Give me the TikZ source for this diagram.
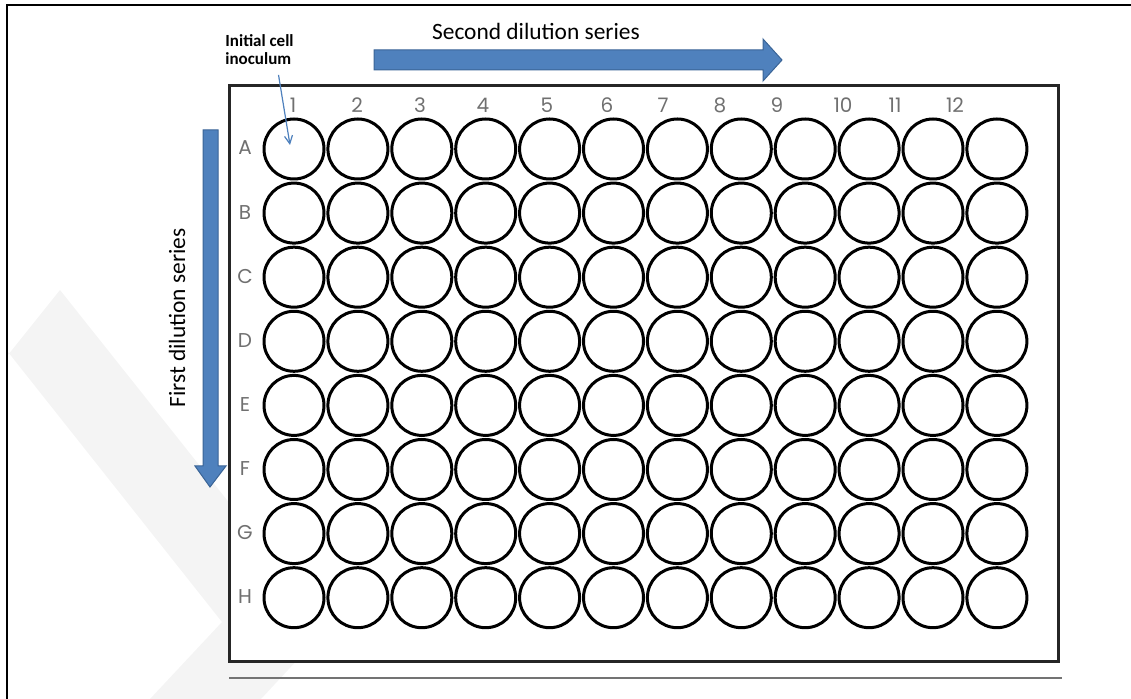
\documentclass[tikz,border=0pt]{standalone}
\usepackage{fontspec}
\setmainfont{Carlito}
\newfontfamily\platefont{Poppins}
\usetikzlibrary{arrows.meta}

\definecolor{serieblue}{HTML}{4F81BD}
\definecolor{serieedge}{HTML}{3A6496}
\definecolor{labelgray}{HTML}{707070}
\definecolor{markgray}{HTML}{F4F4F4}

\begin{document}
\begin{tikzpicture}[
        x=0.5pt, y=-0.5pt,
        >={Straight Barb[length=4pt,width=4pt]},
        plate/.style={draw=black!85, line width=1.5pt, fill=white},
        well/.style={
            circle,
            draw=black,
            line width=1.5pt,
            minimum size=30pt,
            inner sep=0pt
        },
        collabel/.style={font=\platefont\fontsize{10}{12}\selectfont, text=labelgray, inner sep=0pt},
        rowlabel/.style={font=\platefont\fontsize{10}{12}\selectfont, text=labelgray, inner sep=0pt},
        series/.style={font=\fontsize{11.7}{14}\selectfont, inner sep=0pt},
        note/.style={font=\bfseries\fontsize{8.5}{9}\selectfont, align=left, inner sep=0pt},
        blockarrow/.style={fill=serieblue, draw=serieedge, line width=0.5pt},
        pointer/.style={->, draw=serieblue, line width=0.6pt}
    ]

    \useasboundingbox (0,0) rectangle (1131,699);

    % faint watermark behind the figure
    \fill[markgray] (60,290) -- (328,627) -- (261,699) -- (150,699) -- (222,622) -- (8,352) -- (8,355) -- cycle;

    % page frame
    \draw[line width=1.1pt] (1131,5) -- (7,5) -- (7,699);

    % the plate
    \draw[plate] (229,86) rectangle (1058,662);
    \draw[black!55, line width=1pt] (229,678) -- (1062,678);

    \foreach \r in {1,...,8} {
        \foreach \c in {1,...,12} {
            \node[well] (w-\r-\c) at ({294+(\c-1)*63.9}, {149+(\r-1)*64.1}) {};
        }
    }

    \foreach \n/\x in {1/293, 2/357, 3/420, 4/483, 5/547, 6/607, 7/663, 8/720, 9/777, 10/843, 11/895, 12/955}
        \node[collabel] (c\n) at (\x,105) {\n};

    \foreach \l [count=\r] in {A,B,C,D,E,F,G,H}
        \node[rowlabel] (r\l) at (245, {148+(\r-1)*64.1}) {\l};

    % dilution directions
    \path[blockarrow] (374,50) -- (763,50) -- (763,39) -- (782,60) -- (763,81) -- (763,70) -- (374,70) -- cycle;
    \path[blockarrow] (203,130) -- (218,130) -- (218,466) -- (226,466) -- (210,487) -- (195,466) -- (203,466) -- cycle;

    \node[series] (second) at (536,31) {Second dilution series};
    \node[series, rotate=90] (first) at (177,318) {First dilution series};

    \node[note, anchor=north west] (inoc) at (225,34) {Initial cell\\inoculum};
    \draw[pointer] ([xshift=9.5pt,yshift=-5pt]inoc.south) -- ([xshift=-2pt,yshift=2pt]w-1-1.center);

\end{tikzpicture}
\end{document}
